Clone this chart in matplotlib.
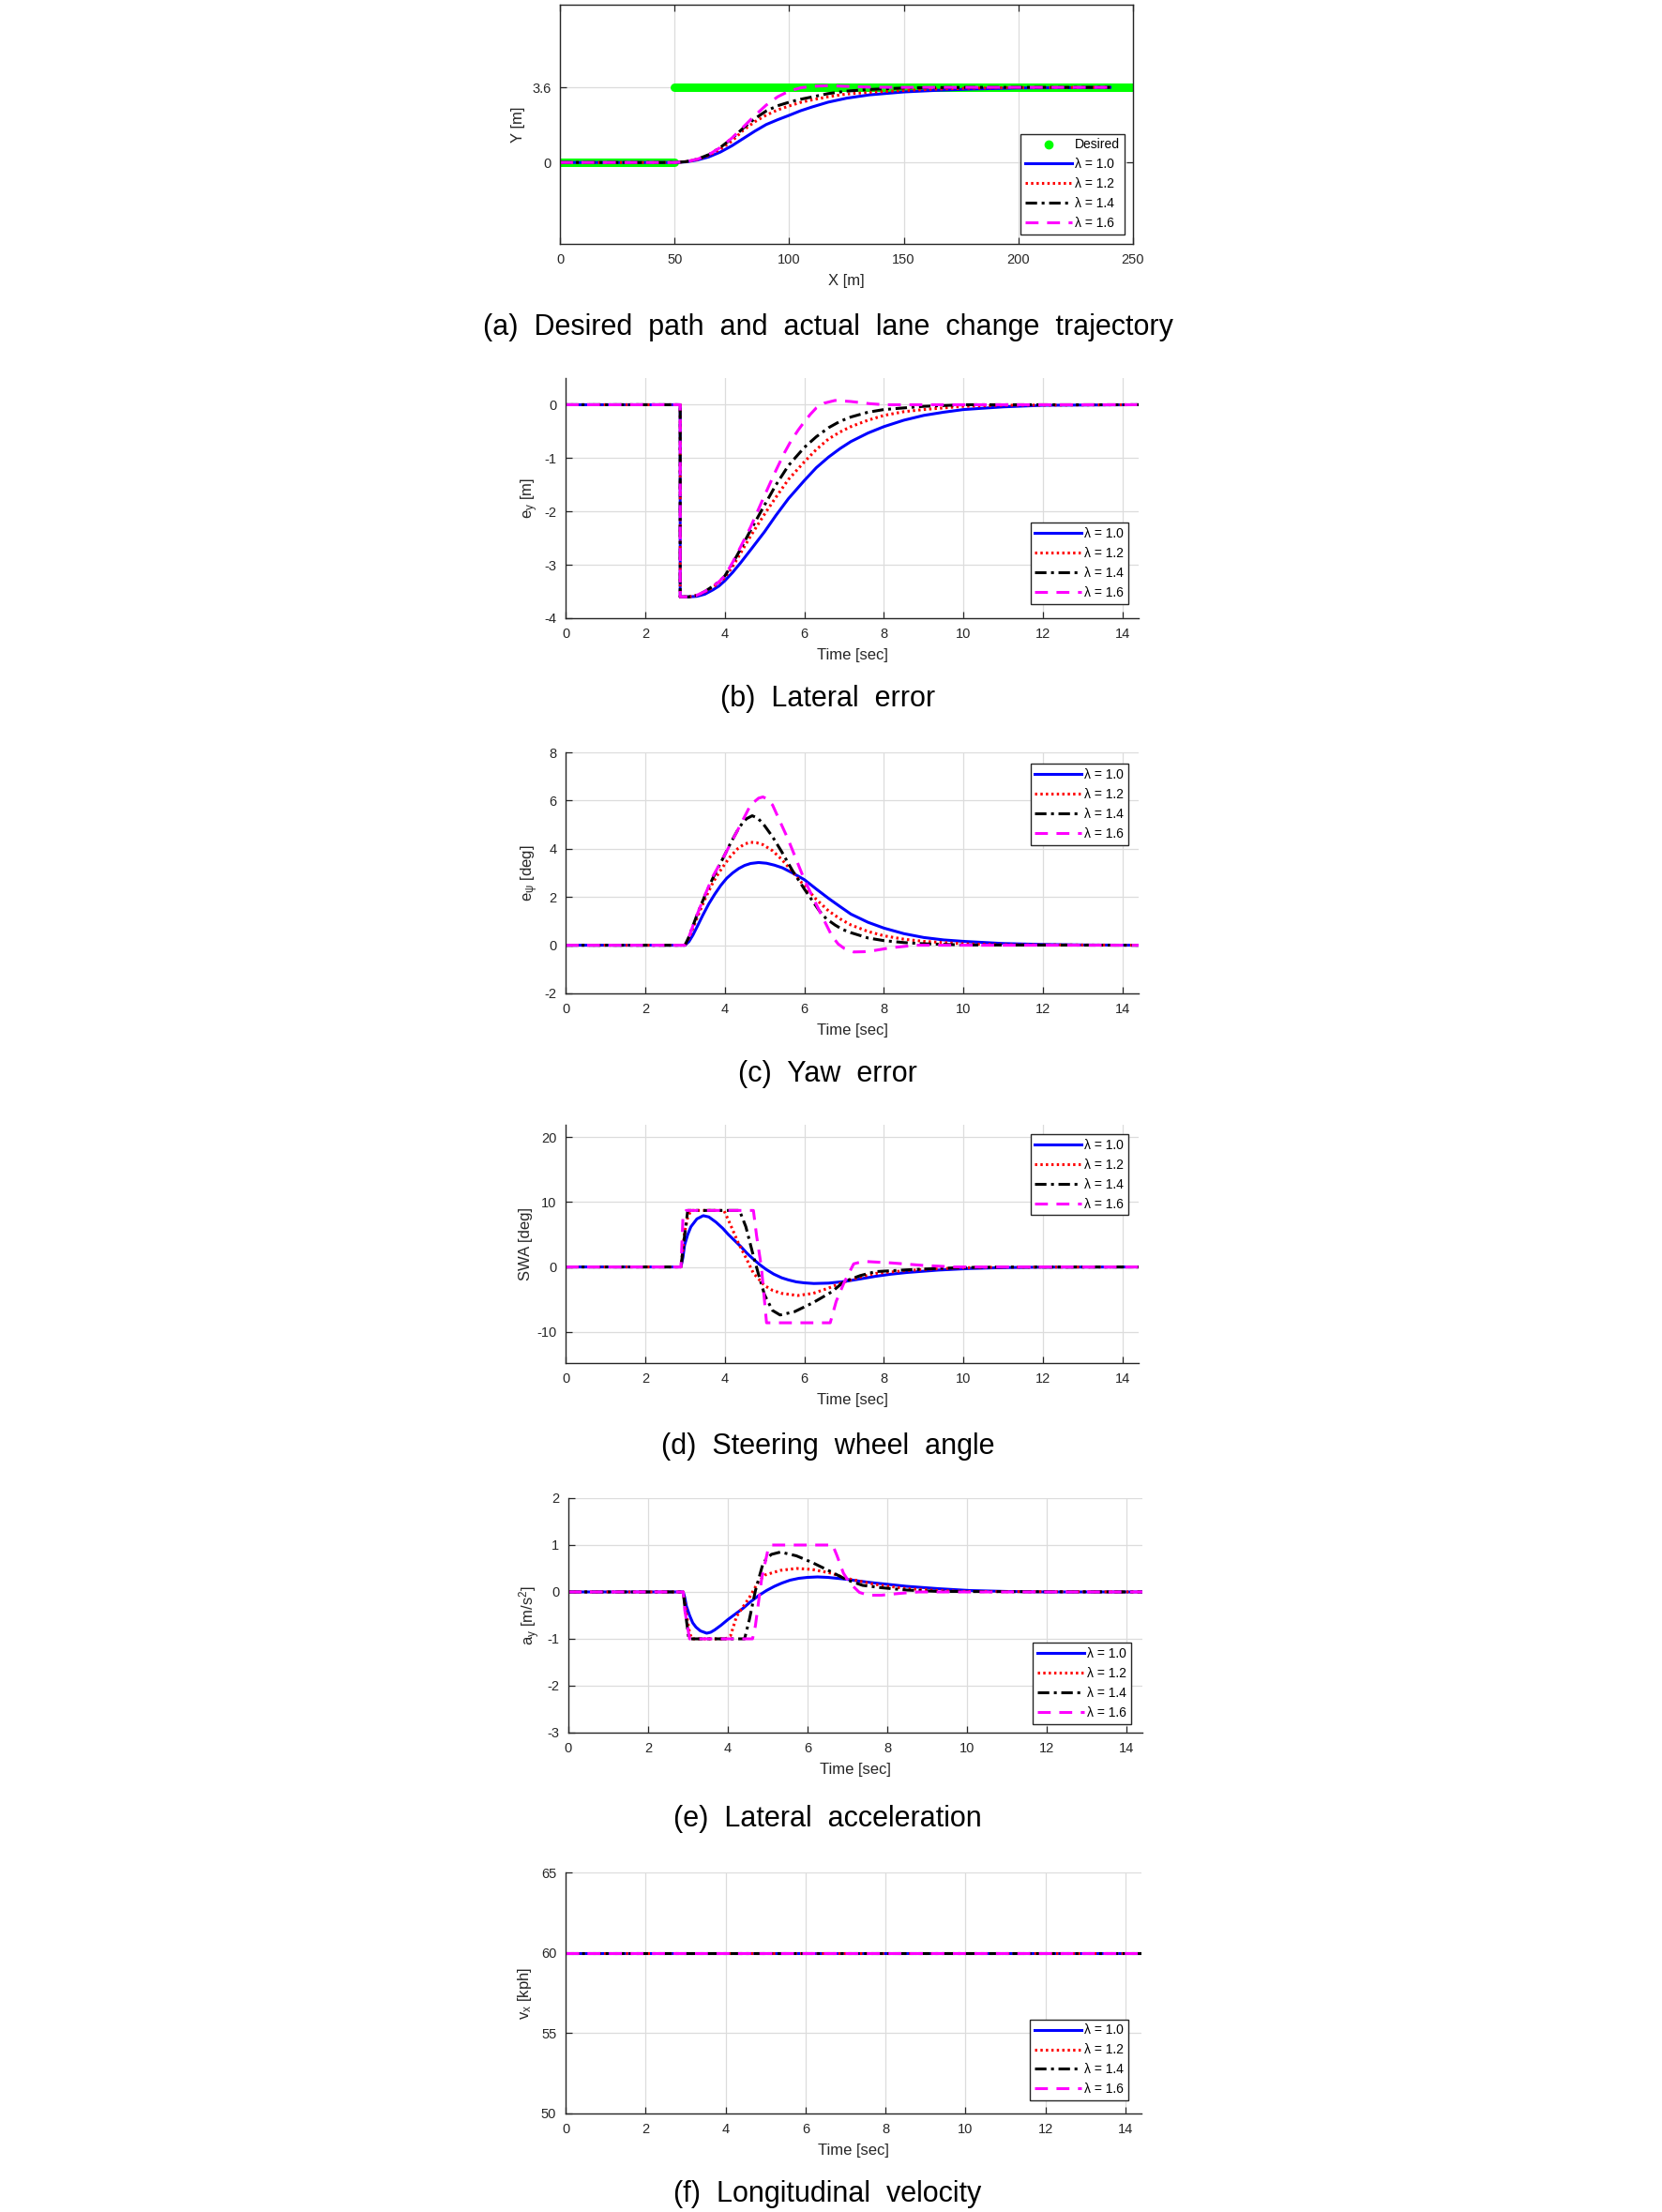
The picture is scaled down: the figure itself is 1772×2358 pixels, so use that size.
import matplotlib
matplotlib.use('Agg')
import matplotlib.pyplot as plt
from matplotlib.lines import Line2D

plt.rcParams['font.family'] = ['Liberation Sans Narrow', 'Liberation Sans', 'DejaVu Sans']
plt.rcParams['mathtext.default'] = 'regular'
plt.rcParams['axes.unicode_minus'] = False

# ---- (a) trajectory, X [m] / Y [m]
desired_x1 = [0, 50]
desired_y1 = [0, 0]
desired_x2 = [50, 250]
desired_y2 = [3.6, 3.6]

traj_x = [0, 50, 55, 60, 65, 70, 75, 80, 85, 90, 95, 100, 105, 110, 117, 125, 135, 150, 165, 180, 200, 240]
traj_l10 = [0, 0, 0.03, 0.12, 0.27, 0.50, 0.80, 1.15, 1.50, 1.82, 2.05, 2.26, 2.48, 2.66, 2.89, 3.08, 3.24, 3.38, 3.46, 3.52, 3.57, 3.6]
traj_l12 = [0, 0, 0.04, 0.15, 0.35, 0.64, 1.02, 1.55, 1.95, 2.27, 2.52, 2.71, 2.88, 3.00, 3.15, 3.28, 3.36, 3.45, 3.52, 3.56, 3.59, 3.6]
traj_l14 = [0, 0, 0.04, 0.16, 0.38, 0.72, 1.15, 1.65, 2.10, 2.47, 2.72, 2.89, 3.03, 3.14, 3.30, 3.42, 3.50, 3.57, 3.59, 3.6, 3.6, 3.6]
traj_l16 = [0, 0, 0.04, 0.16, 0.38, 0.72, 1.17, 1.70, 2.25, 2.75, 3.15, 3.42, 3.58, 3.65, 3.68, 3.65, 3.61, 3.6, 3.6, 3.6, 3.6, 3.6]

# ---- (b) lateral error e_y [m]
ey_t10 = [0, 2.88, 2.88, 3.1, 3.3, 3.5, 3.7, 3.85, 4.0, 4.2, 4.4, 4.65, 5.0, 5.28, 5.6, 6.0, 6.3, 6.61, 6.9, 7.17, 7.6, 8.0, 8.5, 9.0, 9.5, 10.0, 11.0, 12.0, 14.4]
ey_l10 = [0, 0, -3.6, -3.6, -3.59, -3.55, -3.47, -3.40, -3.30, -3.14, -2.96, -2.72, -2.38, -2.08, -1.76, -1.42, -1.18, -0.98, -0.82, -0.69, -0.53, -0.41, -0.29, -0.20, -0.14, -0.09, -0.04, -0.01, 0]
ey_t12 = [0, 2.88, 2.88, 3.1, 3.3, 3.5, 3.7, 3.85, 4.0, 4.2, 4.4, 4.65, 5.0, 5.28, 5.6, 6.0, 6.3, 6.61, 6.9, 7.17, 7.6, 8.0, 8.5, 9.0, 10.0, 11.0, 14.4]
ey_l12 = [0, 0, -3.6, -3.6, -3.57, -3.51, -3.42, -3.34, -3.24, -3.03, -2.78, -2.46, -2.05, -1.74, -1.40, -1.07, -0.84, -0.64, -0.51, -0.41, -0.29, -0.20, -0.13, -0.09, -0.03, -0.01, 0]
ey_t14 = [0, 2.88, 2.88, 3.1, 3.3, 3.5, 3.7, 3.85, 4.0, 4.2, 4.4, 4.65, 5.0, 5.28, 5.6, 6.0, 6.3, 6.61, 6.9, 7.17, 7.6, 8.0, 9.0, 10.0, 14.4]
ey_l14 = [0, 0, -3.6, -3.6, -3.57, -3.50, -3.40, -3.32, -3.21, -2.97, -2.70, -2.35, -1.88, -1.51, -1.14, -0.80, -0.60, -0.43, -0.31, -0.23, -0.14, -0.09, -0.03, 0, 0]
ey_t16 = [0, 2.88, 2.88, 3.1, 3.3, 3.5, 3.7, 3.85, 4.0, 4.2, 4.4, 4.65, 5.0, 5.28, 5.5, 5.67, 5.85, 6.0, 6.15, 6.3, 6.5, 6.77, 7.17, 7.64, 8.0, 14.4]
ey_l16 = [0, 0, -3.6, -3.6, -3.57, -3.50, -3.40, -3.32, -3.21, -2.95, -2.66, -2.29, -1.70, -1.24, -0.90, -0.67, -0.47, -0.32, -0.18, -0.06, 0.03, 0.08, 0.06, 0.02, 0, 0]

# ---- (c) yaw error e_psi [deg]
epsi_t10 = [0, 3.0, 3.1, 3.2, 3.31, 3.45, 3.6, 3.75, 3.9, 4.05, 4.2, 4.35, 4.5, 4.65, 4.85, 5.05, 5.25, 5.45, 5.7, 6.0, 6.3, 6.61, 6.9, 7.17, 7.6, 8.0, 8.5, 9.0, 9.5, 10.0, 11.0, 12.0, 13.0, 14.4]
epsi_l10 = [0, 0, 0.15, 0.42, 0.78, 1.25, 1.72, 2.12, 2.48, 2.78, 3.0, 3.18, 3.31, 3.39, 3.43, 3.40, 3.32, 3.21, 3.00, 2.72, 2.33, 1.94, 1.60, 1.29, 0.95, 0.71, 0.48, 0.32, 0.22, 0.16, 0.07, 0.03, 0.01, 0]
epsi_t12 = [0, 3.0, 3.1, 3.2, 3.31, 3.5, 3.7, 3.85, 4.0, 4.15, 4.33, 4.5, 4.65, 4.8, 4.96, 5.2, 5.43, 5.7, 6.0, 6.3, 6.61, 6.9, 7.17, 7.6, 8.0, 8.5, 9.0, 10.0, 11.0, 14.4]
epsi_l12 = [0, 0, 0.30, 0.70, 1.16, 1.90, 2.59, 3.00, 3.36, 3.70, 4.01, 4.20, 4.27, 4.25, 4.17, 3.92, 3.56, 3.05, 2.46, 1.90, 1.42, 1.09, 0.84, 0.57, 0.39, 0.25, 0.16, 0.06, 0.02, 0]
epsi_t14 = [0, 3.0, 3.1, 3.2, 3.31, 3.5, 3.7, 4.0, 4.15, 4.33, 4.45, 4.55, 4.69, 4.82, 4.96, 5.2, 5.43, 5.7, 6.0, 6.2, 6.38, 6.55, 6.77, 6.95, 7.17, 7.6, 8.0, 8.5, 9.0, 10.0, 14.4]
epsi_l14 = [0, 0, 0.35, 0.80, 1.29, 2.05, 2.78, 3.75, 4.25, 4.79, 5.08, 5.25, 5.37, 5.28, 5.05, 4.50, 3.88, 3.10, 2.33, 1.85, 1.42, 1.10, 0.84, 0.66, 0.52, 0.30, 0.19, 0.11, 0.06, 0.01, 0]
epsi_t16 = [0, 3.0, 3.1, 3.2, 3.31, 3.5, 3.7, 4.0, 4.33, 4.65, 4.85, 4.96, 5.05, 5.2, 5.59, 6.0, 6.38, 6.69, 6.85, 7.0, 7.24, 7.5, 7.72, 8.19, 8.82, 14.4]
epsi_l16 = [0, 0, 0.35, 0.80, 1.29, 2.07, 2.85, 3.75, 4.79, 5.82, 6.10, 6.15, 6.08, 5.82, 4.40, 2.72, 1.42, 0.39, 0.05, -0.13, -0.28, -0.27, -0.23, -0.10, 0, 0]

# ---- (d) steering wheel angle [deg]
swa_t10 = [0, 2.9, 2.95, 2.99, 3.07, 3.15, 3.3, 3.46, 3.6, 3.78, 3.95, 4.09, 4.25, 4.41, 4.56, 4.72, 4.88, 5.04, 5.23, 5.43, 5.6, 5.8, 6.0, 6.24, 6.61, 7.0, 7.4, 7.79, 8.17, 8.57, 9.37, 10.16, 11.0, 12.0, 14.4]
swa_l10 = [0, 0, 1.5, 3.35, 5.0, 6.2, 7.4, 7.9, 7.7, 6.9, 5.95, 5.0, 4.05, 3.1, 2.1, 1.2, 0.35, -0.38, -1.1, -1.67, -2.0, -2.30, -2.45, -2.55, -2.49, -2.25, -1.85, -1.44, -1.12, -0.86, -0.48, -0.24, -0.10, -0.03, 0]
swa_t12 = [0, 2.9, 2.99, 3.07, 3.15, 3.98, 4.13, 4.33, 4.53, 4.72, 5.0, 5.2, 5.43, 5.83, 6.22, 6.61, 7.0, 7.4, 7.79, 8.57, 9.37, 10.16, 11.0, 14.4]
swa_l12 = [0, 0, 5.3, 7.65, 8.7, 8.7, 6.7, 3.83, 1.44, -0.96, -2.87, -3.6, -4.07, -4.4, -4.07, -3.25, -2.3, -1.55, -1.0, -0.55, -0.28, -0.10, -0.03, 0]
swa_t14 = [0, 2.9, 2.99, 3.07, 4.37, 4.53, 4.69, 4.84, 5.0, 5.2, 5.39, 5.75, 6.22, 6.69, 7.0, 7.4, 7.79, 8.57, 9.37, 10.16, 11.0, 14.4]
swa_l14 = [0, 0, 4.8, 8.7, 8.7, 6.2, 2.4, -0.96, -4.3, -6.7, -7.4, -6.9, -5.5, -3.83, -2.25, -1.34, -0.72, -0.45, -0.22, -0.08, -0.02, 0]
swa_t16 = [0, 2.9, 2.95, 3.03, 4.72, 4.8, 4.92, 5.05, 6.65, 6.8, 7.0, 7.24, 7.48, 8.19, 8.98, 9.76, 14.4]
swa_l16 = [0, 0, 7.65, 8.7, 8.7, 4.8, 0, -8.6, -8.6, -5.3, -2.4, 0.48, 0.86, 0.62, 0.24, 0, 0]

# ---- (e) lateral acceleration a_y [m/s^2]
ay_t10 = [0, 2.88, 2.92, 2.96, 3.04, 3.12, 3.2, 3.31, 3.47, 3.57, 3.67, 3.83, 4.0, 4.19, 4.38, 4.57, 4.77, 4.97, 5.17, 5.36, 5.56, 5.78, 6.0, 6.25, 6.51, 6.98, 7.3, 7.69, 8.48, 9.27, 10.06, 11.0, 12.0, 14.4]
ay_l10 = [0, 0, -0.12, -0.30, -0.50, -0.66, -0.75, -0.83, -0.88, -0.86, -0.81, -0.71, -0.59, -0.47, -0.35, -0.21, -0.08, 0.03, 0.12, 0.19, 0.25, 0.29, 0.31, 0.32, 0.31, 0.27, 0.23, 0.19, 0.12, 0.07, 0.03, 0.01, 0, 0]
ay_t12 = [0, 2.88, 2.96, 3.04, 3.1, 3.95, 4.07, 4.22, 4.38, 4.54, 4.77, 4.93, 5.32, 5.72, 6.11, 6.59, 6.98, 7.69, 8.48, 9.27, 10.0, 14.4]
ay_l12 = [0, 0, -0.46, -0.87, -1.0, -1.0, -0.93, -0.52, -0.32, -0.12, 0.22, 0.36, 0.46, 0.50, 0.48, 0.40, 0.29, 0.16, 0.07, 0.03, 0.01, 0]
ay_t14 = [0, 2.88, 2.96, 3.02, 4.42, 4.54, 4.69, 4.89, 5.09, 5.32, 5.72, 6.11, 6.59, 6.98, 7.38, 7.85, 8.48, 9.3, 14.4]
ay_l14 = [0, 0, -0.59, -1.0, -1.0, -0.59, 0.02, 0.63, 0.80, 0.85, 0.77, 0.63, 0.43, 0.26, 0.14, 0.09, 0.04, 0.01, 0]
ay_t16 = [0, 2.88, 2.92, 3.04, 4.62, 4.69, 4.85, 5.01, 5.09, 6.63, 6.74, 6.9, 7.06, 7.3, 7.53, 7.85, 8.32, 8.79, 14.4]
ay_l16 = [0, 0, -0.39, -1.0, -1.0, -0.73, 0.29, 0.91, 1.0, 1.0, 0.77, 0.40, 0.19, -0.01, -0.07, -0.07, -0.03, 0, 0]

# ---- (f) longitudinal velocity v_x [kph]
vx_t = [0, 14.4]
vx_l10 = [60, 60]
vx_l12 = [60, 60]
vx_l14 = [60, 60]
vx_l16 = [60, 60]

labels = ['λ = 1.0', 'λ = 1.2', 'λ = 1.4', 'λ = 1.6']
time_ticks = [0, 2, 4, 6, 8, 10, 12, 14]

AX_COLOR = '#262626'
LW = 2.2
styles = [
    dict(color='#0000ff', linestyle='-'),
    dict(color='#ff0000', linestyle=(0, (0.8, 1.1))),
    dict(color='#000000', linestyle=(0, (4.0, 1.6, 1.0, 1.6))),
    dict(color='#ff00ff', linestyle=(0, (4.5, 3.0))),
]

fig = plt.figure(figsize=(17.72, 23.58), dpi=100)
W, H = 1772.0, 2358.0


def make_axes(left, right, top, bottom):
    return fig.add_axes([left / W, 1 - bottom / H, (right - left) / W, (bottom - top) / H])


def style_axes(ax, box=False):
    ax.grid(True, color='#dcdcdc', linewidth=0.9)
    ax.set_axisbelow(True)
    for side in ['left', 'bottom', 'top', 'right']:
        ax.spines[side].set_color(AX_COLOR)
        ax.spines[side].set_linewidth(1.0)
    if not box:
        ax.spines['top'].set_visible(False)
        ax.spines['right'].set_visible(False)
    ax.tick_params(direction='in', length=5, width=0.9, colors=AX_COLOR,
                   labelsize=10.5, pad=7, top=box, right=box)


def add_legend(ax, handles, texts, loc, anchor):
    leg = ax.legend(handles, texts, loc=loc, bbox_to_anchor=anchor, fontsize=10,
                    handlelength=3.6, handletextpad=0.2, labelspacing=0.5,
                    borderpad=0.35, borderaxespad=0, fancybox=False, framealpha=1)
    leg.get_frame().set_edgecolor(AX_COLOR)
    leg.get_frame().set_linewidth(1.0)
    return leg


def plot_four(ax, series):
    lines = []
    for (t, y), st in zip(series, styles):
        ln, = ax.plot(t, y, linewidth=LW, **st)
        lines.append(ln)
    return lines


caption_kw = dict(ha='center', va='center', fontsize=22)
label_kw = dict(fontsize=12, color=AX_COLOR)

# (a)
ax = make_axes(597, 1208, 5, 260)
style_axes(ax, box=True)
ax.plot(desired_x1, desired_y1, color='#00ff00', linewidth=6.5, solid_capstyle='round')
ax.plot(desired_x2, desired_y2, color='#00ff00', linewidth=6.5, solid_capstyle='round')
lines = plot_four(ax, [(traj_x, traj_l10), (traj_x, traj_l12), (traj_x, traj_l14), (traj_x, traj_l16)])
ax.set_xlim(0, 250)
ax.set_ylim(-3.9, 7.56)
ax.set_xticks([0, 50, 100, 150, 200, 250])
ax.set_yticks([0, 3.6])
ax.set_yticklabels(['0', '3.6'])
ax.set_xlabel('X [m]', labelpad=6, **label_kw)
ax.set_ylabel('Y [m]', labelpad=5, **label_kw)
dot = Line2D([], [], color='#00ff00', marker='o', linestyle='none', markersize=6)
add_legend(ax, [dot] + lines, ['Desired'] + labels, 'lower right', (0.985, 0.039))
fig.text(0.498, 1 - 349 / H, '(a)  Desired  path  and  actual  lane  change  trajectory', **caption_kw)

# (b)
ax = make_axes(603, 1214, 403, 659)
style_axes(ax)
lines = plot_four(ax, [(ey_t10, ey_l10), (ey_t12, ey_l12), (ey_t14, ey_l14), (ey_t16, ey_l16)])
ax.set_xlim(0, 14.4)
ax.set_ylim(-4, 0.5)
ax.set_xticks(time_ticks)
ax.set_yticks([-4, -3, -2, -1, 0])
ax.set_xlabel('Time [sec]', labelpad=6, **label_kw)
ax.set_ylabel('e$_y$ [m]', labelpad=3, **label_kw)
add_legend(ax, lines, labels, 'lower right', (0.982, 0.059))
fig.text(0.498, 1 - 745 / H, '(b)  Lateral  error', **caption_kw)

# (c)
ax = make_axes(603, 1214, 802, 1059)
style_axes(ax)
lines = plot_four(ax, [(epsi_t10, epsi_l10), (epsi_t12, epsi_l12), (epsi_t14, epsi_l14), (epsi_t16, epsi_l16)])
ax.set_xlim(0, 14.4)
ax.set_ylim(-2, 8)
ax.set_xticks(time_ticks)
ax.set_yticks([-2, 0, 2, 4, 6, 8])
ax.set_xlabel('Time [sec]', labelpad=6, **label_kw)
ax.set_ylabel('e$_{\\psi}$ [deg]', labelpad=3, **label_kw)
add_legend(ax, lines, labels, 'upper right', (0.982, 0.953))
fig.text(0.498, 1 - 1145 / H, '(c)  Yaw  error', **caption_kw)

# (d)
ax = make_axes(603, 1214, 1199, 1453)
style_axes(ax)
lines = plot_four(ax, [(swa_t10, swa_l10), (swa_t12, swa_l12), (swa_t14, swa_l14), (swa_t16, swa_l16)])
ax.set_xlim(0, 14.4)
ax.set_ylim(-14.8, 21.9)
ax.set_xticks(time_ticks)
ax.set_yticks([-10, 0, 10, 20])
ax.set_xlabel('Time [sec]', labelpad=6, **label_kw)
ax.set_ylabel('SWA [deg]', labelpad=3, **label_kw)
add_legend(ax, lines, labels, 'upper right', (0.982, 0.961))
fig.text(0.498, 1 - 1542 / H, '(d)  Steering  wheel  angle', **caption_kw)

# (e)
ax = make_axes(606, 1218, 1597, 1847)
style_axes(ax)
lines = plot_four(ax, [(ay_t10, ay_l10), (ay_t12, ay_l12), (ay_t14, ay_l14), (ay_t16, ay_l16)])
ax.set_xlim(0, 14.4)
ax.set_ylim(-3, 2)
ax.set_xticks(time_ticks)
ax.set_yticks([-3, -2, -1, 0, 1, 2])
ax.set_xlabel('Time [sec]', labelpad=6, **label_kw)
ax.set_ylabel('a$_y$ [m/s$^2$]', labelpad=4, **label_kw)
add_legend(ax, lines, labels, 'lower right', (0.980, 0.036))
fig.text(0.498, 1 - 1939 / H, '(e)  Lateral  acceleration', **caption_kw)

# (f)
ax = make_axes(603, 1217, 1996, 2253)
style_axes(ax)
lines = plot_four(ax, [(vx_t, vx_l10), (vx_t, vx_l12), (vx_t, vx_l14), (vx_t, vx_l16)])
ax.set_xlim(0, 14.4)
ax.set_ylim(50, 65)
ax.set_xticks(time_ticks)
ax.set_yticks([50, 55, 60, 65])
ax.set_xlabel('Time [sec]', labelpad=6, **label_kw)
ax.set_ylabel('v$_x$ [kph]', labelpad=6, **label_kw)
add_legend(ax, lines, labels, 'lower right', (0.977, 0.054))
fig.text(0.498, 1 - 2339 / H, '(f)  Longitudinal  velocity', **caption_kw)

fig.savefig('out.png', dpi=100, facecolor='white')
